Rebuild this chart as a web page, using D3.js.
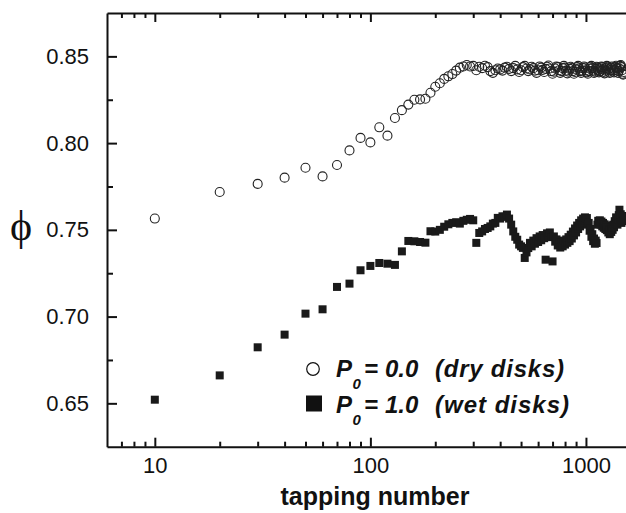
<!DOCTYPE html>
<html><head><meta charset="utf-8">
<script src="https://cdn.jsdelivr.net/npm/d3@7"></script>
<style>body{margin:0;background:#fff}svg{display:block}</style>
</head><body>
<svg id="c" width="626" height="513"></svg>
<script>
const taps = [10,20,30,40,50,60,70,80,90,100,
110,120,130,140,150,160,170,180,190,200,
210,220,230,240,250,260,270,280,290,300,
310,320,330,340,350,360,370,380,390,400,
410,420,430,440,450,460,470,480,490,500,
510,520,530,540,550,560,570,580,590,600,
610,620,630,640,650,660,670,680,690,700,
710,720,730,740,750,760,770,780,790,800,
810,820,830,840,850,860,870,880,890,900,
910,920,930,940,950,960,970,980,990,1000,
1010,1020,1030,1040,1050,1060,1070,1080,1090,1100,
1110,1120,1130,1140,1150,1160,1170,1180,1190,1200,
1210,1220,1230,1240,1250,1260,1270,1280,1290,1300,
1310,1320,1330,1340,1350,1360,1370,1380,1390,1400,
1410,1420,1430,1440,1450,1460,1470,1480,1490,1500];

const dryPhi = [0.7565,0.7718,0.7765,0.7801,0.7858,0.7808,0.7874,0.7958,0.8030,0.8004,
0.8091,0.8043,0.8145,0.8190,0.8222,0.8250,0.8252,0.8256,0.8290,0.8325,
0.8345,0.8370,0.8385,0.8398,0.8418,0.8435,0.8442,0.8450,0.8442,0.8445,
0.8420,0.8440,0.8432,0.8446,0.8438,0.8415,0.8405,0.8420,0.8430,0.8425,
0.8418,0.8435,0.8440,0.8428,0.8415,0.8432,0.8445,0.8425,0.8410,0.8420,
0.8438,0.8445,0.8430,0.8415,0.8425,0.8440,0.8432,0.8418,0.8405,0.8420,
0.8442,0.8435,0.8422,0.8410,0.8428,0.8440,0.8447,0.8430,0.8415,0.8400,
0.8412,0.8430,0.8442,0.8438,0.8420,0.8405,0.8415,0.8432,0.8445,0.8435,
0.8418,0.8402,0.8412,0.8428,0.8440,0.8432,0.8415,0.8400,0.8410,0.8425,
0.8438,0.8445,0.8430,0.8415,0.8405,0.8418,0.8432,0.8442,0.8436,0.8420,
0.8408,0.8400,0.8415,0.8430,0.8440,0.8445,0.8432,0.8418,0.8405,0.8412,
0.8428,0.8440,0.8435,0.8420,0.8408,0.8415,0.8430,0.8442,0.8438,0.8425,
0.8410,0.8402,0.8418,0.8432,0.8445,0.8440,0.8425,0.8412,0.8405,0.8420,
0.8435,0.8442,0.8430,0.8418,0.8408,0.8422,0.8438,0.8446,0.8432,0.8418,
0.8405,0.8415,0.8430,0.8445,0.8450,0.8438,0.8420,0.8400,0.8395,0.8410];

const wetPhi = [0.6521,0.6661,0.6823,0.6896,0.7017,0.7042,0.7171,0.7190,0.7267,0.7292,
0.7309,0.7305,0.7298,0.7376,0.7436,0.7434,0.7430,0.7426,0.7492,0.7490,
0.7500,0.7518,0.7532,0.7540,0.7544,0.7536,0.7552,0.7558,0.7563,0.7555,
0.7425,0.7482,0.7491,0.7505,0.7511,0.7520,0.7536,0.7540,0.7569,0.7565,
0.7578,0.7575,0.7588,0.7565,0.7530,0.7491,0.7460,0.7443,0.7415,0.7405,
0.7396,0.7338,0.7370,0.7395,0.7425,0.7405,0.7438,0.7420,0.7452,0.7430,
0.7462,0.7440,0.7470,0.7452,0.7328,0.7480,0.7460,0.7485,0.7458,0.7318,
0.7462,0.7432,0.7445,0.7410,0.7428,0.7398,0.7425,0.7405,0.7438,0.7415,
0.7445,0.7425,0.7458,0.7435,0.7472,0.7450,0.7490,0.7468,0.7508,0.7485,
0.7525,0.7505,0.7540,0.7520,0.7555,0.7535,0.7565,0.7545,0.7572,0.7555,
0.7568,0.7530,0.7540,0.7495,0.7505,0.7460,0.7475,0.7435,0.7450,0.7420,
0.7438,0.7424,0.7530,0.7552,0.7535,0.7555,0.7530,0.7548,0.7520,0.7540,
0.7512,0.7532,0.7505,0.7525,0.7498,0.7515,0.7485,0.7500,0.7475,0.7495,
0.7488,0.7515,0.7500,0.7530,0.7515,0.7550,0.7535,0.7572,0.7548,0.7530,
0.7560,0.7585,0.7616,0.7565,0.7590,0.7540,0.7575,0.7550,0.7580,0.7555];

const xMajorTicks = [10, 100, 1000];
const xMinorTicks = [7,8,9,20,30,40,50,60,70,80,90,200,300,400,500,600,700,800,900];
const yMajorTicks = [0.65, 0.70, 0.75, 0.80, 0.85];
const yMinorTicks = [0.675, 0.725, 0.775, 0.825];
const legendLabels = [
  {p:"P", sub:"0", eq:"=", val:"0.0", note:"(dry disks)"},
  {p:"P", sub:"0", eq:"=", val:"1.0", note:"(wet disks)"}
];
const xTitle = "tapping number";
const yTitle = "\u03D5";

const svg = d3.select("#c");
const L = 107, R = 626, T = 13, B = 446.7;
const x = d3.scaleLog().domain([6, 1534]).range([L, R]);
const y = d3.scaleLinear().domain([0.625, 0.875]).range([B, T]);
const font = "'Liberation Sans', Arial, sans-serif";

// markers
const g = svg.append("g");
g.selectAll("rect.wet").data(taps.map((t,i)=>[t, wetPhi[i]])).join("rect")
  .attr("class","wet")
  .attr("x", d => x(d[0]) - 4).attr("y", d => y(d[1]) - 4)
  .attr("width", 8).attr("height", 8).attr("fill", "#1a1a1a");
g.selectAll("circle.dry").data(taps.map((t,i)=>[t, dryPhi[i]])).join("circle")
  .attr("class","dry")
  .attr("cx", d => x(d[0])).attr("cy", d => y(d[1])).attr("r", 4.5)
  .attr("fill", "none").attr("stroke", "#222").attr("stroke-width", 1.1);

// axes
function styleAxis(sel){
  sel.select(".domain").attr("stroke","#111").attr("stroke-width",2);
  sel.selectAll(".tick line").attr("stroke","#111").attr("stroke-width",2);
  sel.selectAll("text").attr("font-family",font).attr("font-size",22).attr("fill","#111");
}
const xb = svg.append("g").attr("transform",`translate(0,${B})`)
  .call(d3.axisBottom(x).tickValues(xMajorTicks).tickFormat(d3.format("d")).tickSize(-9).tickPadding(11).tickSizeOuter(0));
styleAxis(xb);
const xbm = svg.append("g").attr("transform",`translate(0,${B})`)
  .call(d3.axisBottom(x).tickValues(xMinorTicks).tickFormat("").tickSize(-5).tickSizeOuter(0));
styleAxis(xbm); xbm.select(".domain").remove();

const xt = svg.append("g").attr("transform",`translate(0,${T})`)
  .call(d3.axisTop(x).tickValues(xMajorTicks).tickFormat("").tickSize(-9).tickSizeOuter(0));
styleAxis(xt);
const xtm = svg.append("g").attr("transform",`translate(0,${T})`)
  .call(d3.axisTop(x).tickValues(xMinorTicks).tickFormat("").tickSize(-5).tickSizeOuter(0));
styleAxis(xtm); xtm.select(".domain").remove();

const yl = svg.append("g").attr("transform",`translate(${L},0)`)
  .call(d3.axisLeft(y).tickValues(yMajorTicks).tickFormat(d3.format(".2f")).tickSize(-10).tickPadding(18).tickSizeOuter(0));
styleAxis(yl);
const ylm = svg.append("g").attr("transform",`translate(${L},0)`)
  .call(d3.axisLeft(y).tickValues(yMinorTicks).tickFormat("").tickSize(-6).tickSizeOuter(0));
styleAxis(ylm); ylm.select(".domain").remove();

// titles
svg.append("text").attr("x", 375).attr("y", 505).attr("text-anchor","middle")
  .attr("font-family",font).attr("font-weight","bold").attr("font-size",25).attr("fill","#111").text(xTitle);
svg.append("text").attr("x", 21).attr("y", 240).attr("text-anchor","middle")
  .attr("font-family","'Liberation Serif','DejaVu Serif',serif").attr("font-size",42).attr("fill","#111").text(yTitle);

// legend
const legY = [376.5, 412.5];
svg.append("circle").attr("cx",313).attr("cy",369).attr("r",6.3).attr("fill","none").attr("stroke","#111").attr("stroke-width",1.2);
svg.append("rect").attr("x",306).attr("y",395.5).attr("width",16).attr("height",16).attr("fill","#111");
legendLabels.forEach((lab,i)=>{
  const t = svg.append("text").attr("y",legY[i])
    .attr("font-family",font).attr("font-weight","bold").attr("font-style","italic")
    .attr("font-size",24).attr("fill","#111");
  t.append("tspan").attr("x",336).text(lab.p);
  t.append("tspan").attr("x",352.5).attr("font-size",15).attr("dy",12).text(lab.sub);
  t.append("tspan").attr("x",364).attr("dy",-12).text(lab.eq);
  t.append("tspan").attr("x",385).text(lab.val);
  t.append("tspan").attr("x",435).attr("textLength", i===0 ? 129 : 134).attr("lengthAdjust","spacing").text(lab.note);
});
</script>
</body></html>
